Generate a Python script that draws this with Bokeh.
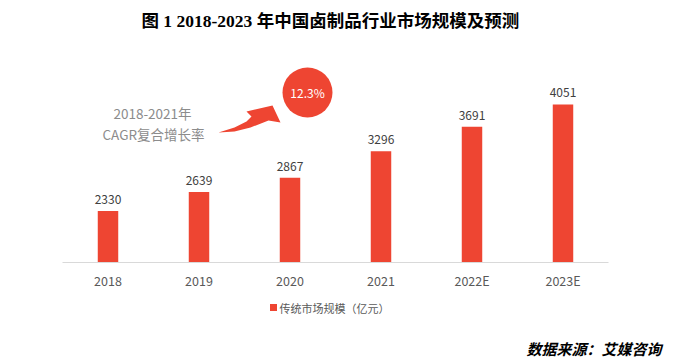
from bokeh.plotting import figure
from bokeh.layouts import column
from bokeh.models import Range1d, Label, ColumnDataSource, FixedTicker
from bokeh.core.properties import value
from bokeh.embed import file_html
from bokeh.resources import INLINE

# ---- data ----
years = ["2018", "2019", "2020", "2021", "2022E", "2023E"]
market_size = [2330, 2639, 2867, 3296, 3691, 4051]
value_labels = [str(v) for v in market_size]
series_name = "传统市场规模（亿元）"
cagr_period = "2018-2021年"
cagr_label = "CAGR复合增长率"
cagr_value = "12.3%"
chart_title = "图 1  2018-2023 年中国卤制品行业市场规模及预测"
source_text = "数据来源：艾媒咨询"

RED = "#EE4532"
CJK = "Noto Sans CJK SC"

BASE = 1500            # value at the axis line
W, H = 694, 300
AX_LEFT, AX_RIGHT, AX_Y = 62, 608, 262   # picture pixels of the category axis
K = (5730 - BASE) / AX_Y                 # value units per pixel
PX = (AX_RIGHT - AX_LEFT) / len(years)   # pixels per category

def xd(px):
    return (px - AX_LEFT) / PX

def yd(py):
    return BASE + (AX_Y - py) * K

x_pos = [i + 0.5 for i in range(len(years))]

p = figure(width=W, height=H, output_backend="svg", toolbar_location=None,
           x_range=Range1d(xd(0), xd(W)),
           y_range=Range1d(yd(AX_Y + 1), yd(0)),
           min_border_left=0, min_border_right=0,
           min_border_top=0, min_border_bottom=H - AX_Y - 1)
p.outline_line_color = None
p.grid.visible = False
p.yaxis.visible = False

src = ColumnDataSource(dict(x=x_pos, top=market_size, lab=value_labels))
bars = p.vbar(x="x", top="top", bottom=BASE, width=0.225, source=src,
              fill_color=RED, line_color=None)
p.text(x="x", y="top", text="lab", source=src, y_offset=-7,
       text_align="center", text_baseline="bottom",
       text_font=value(CJK), text_font_size="12px", text_color="#404040")

# category axis
ax = p.xaxis[0]
ax.ticker = FixedTicker(ticks=x_pos)
ax.major_label_overrides = {x: y for x, y in zip(x_pos, years)}
ax.axis_line_color = None
ax.major_tick_line_color = None
ax.minor_tick_line_color = None
ax.major_tick_out = 0
ax.major_tick_in = 0
ax.major_label_standoff = 7
ax.major_label_text_font = CJK
ax.major_label_text_font_size = "12.5px"
ax.major_label_text_color = "#595959"
p.segment(x0=[0], y0=[BASE], x1=[len(years)], y1=[BASE], line_color="#D9D9D9", line_width=1)

# title
p.add_layout(Label(x=xd(332), y=yd(20), text=chart_title, text_align="center",
                   text_baseline="middle", text_font="Liberation Serif, Noto Sans CJK SC",
                   text_font_size="17.5px", text_font_style="bold", text_color="#000000"))

# CAGR annotation
p.add_layout(Label(x=xd(152), y=yd(112), text=cagr_period, text_align="center",
                   text_baseline="middle", text_font=CJK, text_font_size="13.5px",
                   text_color="#8C8C8C"))
p.add_layout(Label(x=xd(153), y=yd(133), text=cagr_label, text_align="center",
                   text_baseline="middle", text_font=CJK, text_font_size="13.5px",
                   text_color="#8C8C8C"))
arrow_px = [(218, 132), (234, 127), (246, 121), (251, 116), (246, 111), (272, 105),
            (280, 122), (268, 120), (250, 127), (234, 131)]
p.patch([xd(a) for a, b in arrow_px], [yd(b) for a, b in arrow_px],
        fill_color=RED, line_color=None)
p.scatter([xd(307)], [yd(92)], size=50, marker="circle", fill_color=RED, line_color=None)
p.add_layout(Label(x=xd(307), y=yd(92), text=cagr_value, text_align="center",
                   text_baseline="middle", text_font=CJK, text_font_size="12px",
                   text_color="#FFFFFF"))

# ---- footer strip: legend key and source note ----
FH2 = 360 - H
f = figure(width=W, height=FH2, output_backend="svg", toolbar_location=None,
           x_range=Range1d(0, W), y_range=Range1d(FH2, 0),
           x_axis_location=None, y_axis_location=None,
           min_border_left=0, min_border_right=0,
           min_border_top=0, min_border_bottom=0)
f.outline_line_color = None
f.grid.visible = False
f.scatter([273], [7], marker="square", size=7, fill_color=RED, line_color=None)
f.add_layout(Label(x=279, y=7, text=series_name, text_align="left", text_baseline="middle",
                   text_font=CJK, text_font_size="11px", text_color="#595959"))
f.add_layout(Label(x=526, y=48, text=source_text, text_align="left", text_baseline="middle",
                   text_font=CJK, text_font_size="15px", text_font_style="bold italic",
                   text_color="#000000"))

layout = column(p, f, spacing=0)
open("out.html", "w").write(file_html(layout, INLINE))
